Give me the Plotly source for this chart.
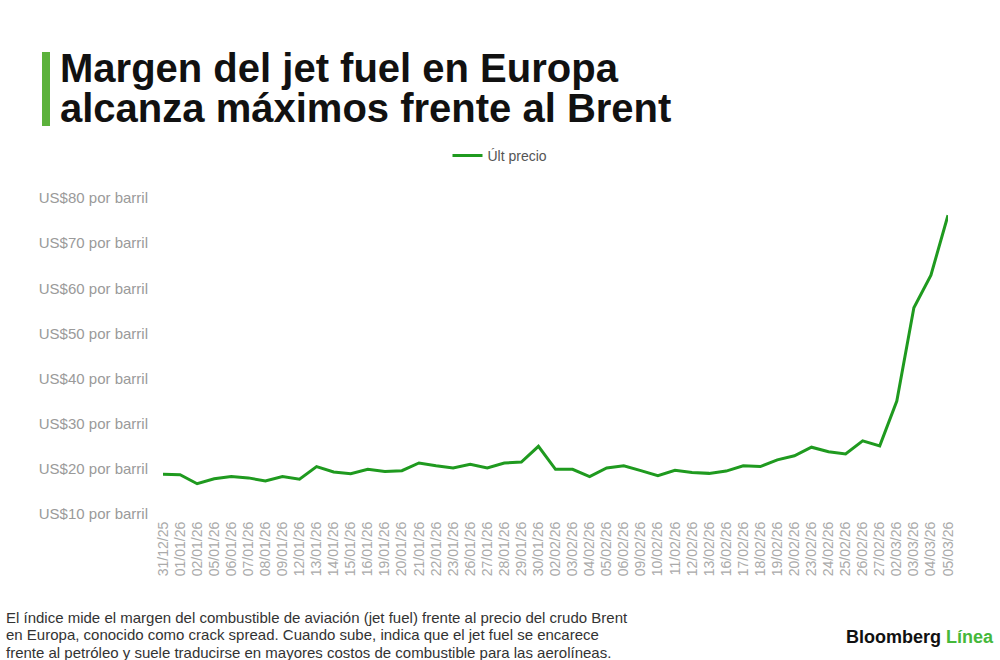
import plotly.graph_objects as go

# Fechas de cotización (dd/mm/aa)
fechas = [
    "31/12/25", "01/01/26", "02/01/26", "05/01/26", "06/01/26", "07/01/26",
    "08/01/26", "09/01/26", "12/01/26", "13/01/26", "14/01/26", "15/01/26",
    "16/01/26", "19/01/26", "20/01/26", "21/01/26", "22/01/26", "23/01/26",
    "26/01/26", "27/01/26", "28/01/26", "29/01/26", "30/01/26", "02/02/26",
    "03/02/26", "04/02/26", "05/02/26", "06/02/26", "09/02/26", "10/02/26",
    "11/02/26", "12/02/26", "13/02/26", "16/02/26", "17/02/26", "18/02/26",
    "19/02/26", "20/02/26", "23/02/26", "24/02/26", "25/02/26", "26/02/26",
    "27/02/26", "02/03/26", "03/03/26", "04/03/26", "05/03/26",
]

# Margen jet fuel vs Brent (US$ por barril)
ult_precio = [
    18.8, 18.7, 16.7, 17.8, 18.3, 18.0, 17.3, 18.3, 17.7, 20.5, 19.3, 18.9,
    19.9, 19.4, 19.6, 21.3, 20.7, 20.2, 21.0, 20.2, 21.3, 21.5, 25.0, 19.9,
    19.9, 18.3, 20.2, 20.7, 19.6, 18.5, 19.7, 19.2, 19.0, 19.5, 20.7, 20.5,
    22.0, 22.9, 24.8, 23.8, 23.3, 26.2, 25.1, 35.0, 55.7, 62.9, 76.2,
]

y_ticks = [10, 20, 30, 40, 50, 60, 70, 80]
y_labels = [f"US${v} por barril" for v in y_ticks]

titulo = ["Margen del jet fuel en Europa", "alcanza máximos frente al Brent"]
nota = [
    "El índice mide el margen del combustible de aviación (jet fuel) frente al precio del crudo Brent",
    "en Europa, conocido como crack spread. Cuando sube, indica que el jet fuel se encarece",
    "frente al petróleo y suele traducirse en mayores costos de combustible para las aerolíneas.",
]

W, H = 1000, 660
L, R, T, B = 163, 52, 198, 146
PW, PH = W - L - R, H - T - B
FONT = "Liberation Sans, Arial, sans-serif"


def px_x(x):
    return (x - L) / PW


def px_y(y):
    return (H - B - y) / PH


fig = go.Figure()
fig.add_trace(go.Scatter(
    x=fechas, y=ult_precio, mode="lines", name="Últ precio",
    line=dict(color="#1f9a1f", width=3),
))

fig.update_layout(
    width=W, height=H,
    paper_bgcolor="white", plot_bgcolor="white",
    margin=dict(l=L, r=R, t=T, b=B),
    font=dict(family=FONT, color="#999999"),
    showlegend=True,
    legend=dict(
        orientation="h", xref="container", yref="container",
        x=0.5, xanchor="center", y=1 - 156 / H, yanchor="middle",
        font=dict(size=14, color="#555555"),
        itemwidth=30,
    ),
    xaxis=dict(
        type="category", range=[0, len(fechas) - 1],
        tickangle=-90, showgrid=False, showline=False, zeroline=False,
        tickfont=dict(size=14, color="#aaaaaa"),
        ticks="", ticklabelstandoff=4,
    ),
    yaxis=dict(
        range=[10, 80], tickvals=y_ticks, ticktext=y_labels,
        showgrid=False, zeroline=False, showline=False,
        tickfont=dict(size=15, color="#9a9a9a"),
        ticklabelstandoff=14,
    ),
)

# barra verde del título
fig.add_shape(type="rect", xref="paper", yref="paper",
              x0=px_x(42), x1=px_x(50), y0=px_y(126), y1=px_y(52),
              fillcolor="#5cb23c", line=dict(width=0))

for i, linea in enumerate(titulo):
    fig.add_annotation(
        text=f"<b>{linea}</b>", xref="paper", yref="paper",
        x=px_x(58), y=px_y(68 + i * 40),
        xanchor="left", yanchor="middle", showarrow=False,
        font=dict(size=40, color="#111111"),
    )

for i, linea in enumerate(nota):
    fig.add_annotation(
        text=linea, xref="paper", yref="paper",
        x=px_x(4), y=px_y(617 + i * 17.5),
        xanchor="left", yanchor="middle", showarrow=False,
        font=dict(size=15, color="#333333"),
    )

fig.add_annotation(
    text="<b>Bloomberg</b> <span style='color:#45b83a'><b>Línea</b></span>",
    xref="paper", yref="paper",
    x=px_x(996), y=px_y(637),
    xanchor="right", yanchor="middle", showarrow=False,
    font=dict(size=18, color="#111111"),
)

# quitar el margen por defecto del body para que el gráfico ocupe la ventana
fig.write_html("out.html", config={"displayModeBar": False},
               post_script="document.body.style.margin='0';")
